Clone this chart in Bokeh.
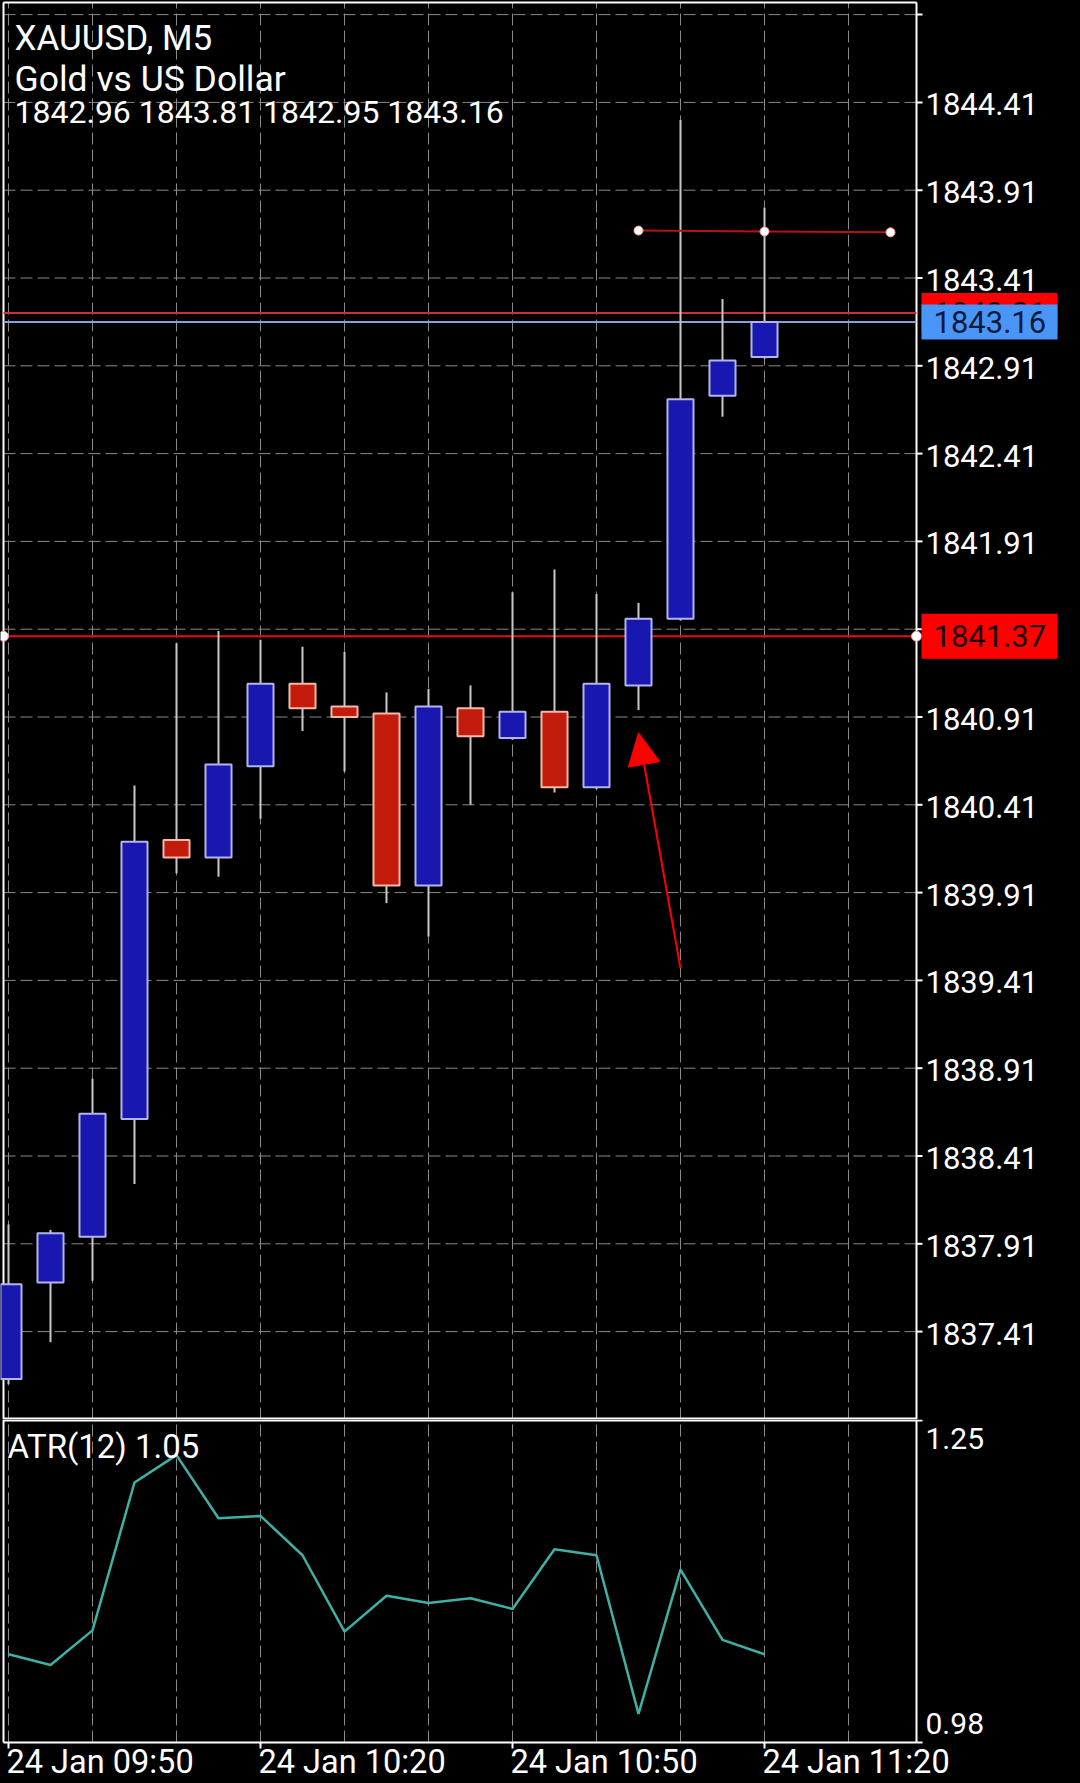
from bokeh.plotting import figure
from bokeh.layouts import column
from bokeh.models import (ColumnDataSource, Range1d, Arrow, NormalHead, GlobalInlineStyleSheet)
from bokeh.core.properties import value
from bokeh.embed import file_html
from bokeh.resources import INLINE

# ---------------- data ----------------
symbol_title = "XAUUSD, M5"
symbol_desc = "Gold vs US Dollar"
bar_times = ["09:50", "09:55", "10:00", "10:05", "10:10", "10:15", "10:20", "10:25",
             "10:30", "10:35", "10:40", "10:45", "10:50", "10:55", "11:00", "11:05",
             "11:10", "11:15", "11:20"]
opens = [1837.14, 1837.69, 1837.95, 1838.62, 1840.21, 1840.11, 1840.63, 1841.10, 1840.97, 1840.93,
         1839.95, 1840.96, 1840.79, 1840.94, 1840.51, 1841.09, 1841.47, 1842.74, 1842.96]
highs = [1838.02, 1837.99, 1838.85, 1840.52, 1841.33, 1841.40, 1841.35, 1841.31, 1841.28, 1841.05,
         1841.07, 1841.09, 1841.62, 1841.75, 1841.61, 1841.56, 1844.31, 1843.29, 1843.81]
lows = [1837.11, 1837.35, 1837.70, 1838.25, 1840.02, 1840.00, 1840.33, 1840.83, 1840.60, 1839.85,
        1839.66, 1840.41, 1840.78, 1840.48, 1840.50, 1840.95, 1841.46, 1842.62, 1842.95]
closes = [1837.68, 1837.97, 1838.65, 1840.20, 1840.11, 1840.64, 1841.10, 1840.96, 1840.91, 1839.95,
          1840.97, 1840.80, 1840.94, 1840.51, 1841.10, 1841.47, 1842.72, 1842.94, 1843.16]
atr_values = [1.054, 1.045, 1.074, 1.198, 1.221, 1.168, 1.170, 1.137, 1.073, 1.103,
              1.097, 1.101, 1.092, 1.142, 1.137, 1.004, 1.125, 1.066, 1.054]
price_ticks = [1837.41, 1837.91, 1838.41, 1838.91, 1839.41, 1839.91, 1840.41, 1840.91,
               1841.41, 1841.91, 1842.41, 1842.91, 1843.41, 1843.91, 1844.41]
price_grid_top = 1844.91
time_tick_index = [0, 6, 12, 18]
time_tick_labels = ["24 Jan 09:50", "24 Jan 10:20", "24 Jan 10:50", "24 Jan 11:20"]
atr_axis_max = 1.25
atr_axis_min = 0.98
level_price = 1841.37
ask_price = 1843.21
bid_price = 1843.16
trend_index = [15, 18, 21]
trend_price = [1843.68, 1843.675, 1843.67]
arrow_from = (16, 1839.48)
arrow_to = (15, 1840.82)

# ---------------- layout constants (pixels) ----------------
W = 1080                 # canvas width
XPPU = 42.0              # pixels per bar
BAR0_PX = 8              # x of first bar centre
PLOT_LEFT = 3            # chart left border
PLOT_RIGHT = 916         # chart right border
MAIN_H = 1419            # main panel height
TOP_BORDER = 2
PPU = 175.6              # pixels per price unit
REF_TICK_PX = 101.9      # y of the 1844.41 tick
ATR_PLOT_H = 323         # atr plot height (to its bottom border)
XLAB_H = 41              # time label band
FONT = "Roboto"
GRID_COLOR = "#8a8a8a"
GRID_DASH = "12 5"
WHITE = "white"

X0 = -BAR0_PX / XPPU
X_END = (W - BAR0_PX) / XPPU
XB = (PLOT_RIGHT - BAR0_PX) / XPPU
XL = (PLOT_LEFT - BAR0_PX) / XPPU
PRICE_HI = price_ticks[-1] + REF_TICK_PX / PPU
PRICE_LO = PRICE_HI - MAIN_H / PPU
ATR_PPU = (ATR_PLOT_H - 1) / (atr_axis_max - atr_axis_min)
ATR_TOP = atr_axis_max + 1 / ATR_PPU
ATR_LO = atr_axis_min - XLAB_H / ATR_PPU


def dx(px):
    return px / XPPU


def dpm(px):
    return px / PPU


def dpa(px):
    return px / ATR_PPU


def price_at(cy):
    return PRICE_HI - cy / PPU


xr = Range1d(X0, X_END)


def base_fig(height, yr):
    f = figure(width=W, height=height, x_range=xr, y_range=yr,
               x_axis_location=None, y_axis_location=None, output_backend="svg",
               toolbar_location=None, background_fill_color="black",
               border_fill_color="black", min_border=0, outline_line_color=None)
    f.xgrid.visible = False
    f.ygrid.visible = False
    return f


# ---------------- main price panel ----------------
p = base_fig(MAIN_H, Range1d(PRICE_LO, PRICE_HI))
PT = price_at(TOP_BORDER)

grid_x = list(range(0, 21, 2))
p.segment(x0=grid_x, x1=grid_x, y0=[PRICE_LO] * len(grid_x), y1=[PT] * len(grid_x),
          line_color=GRID_COLOR, line_dash=GRID_DASH, line_width=1)
grid_y = price_ticks + [price_grid_top]
p.segment(x0=[XL] * len(grid_y), x1=[XB] * len(grid_y), y0=grid_y, y1=grid_y,
          line_color=GRID_COLOR, line_dash=GRID_DASH, line_width=1)

# frame borders
p.segment(x0=[XL, XL, XB], x1=[XB, XL, XB], y0=[PT, PRICE_LO, PRICE_LO],
          y1=[PT, PT, PT], line_color=WHITE, line_width=2)
p.segment(x0=[XL], x1=[XB], y0=[PRICE_LO], y1=[PRICE_LO], line_color=WHITE, line_width=4)

# price axis ticks and labels
p.segment(x0=[XB] * len(grid_y), x1=[XB + dx(6)] * len(grid_y), y0=grid_y, y1=grid_y,
          line_color=WHITE, line_width=2)
p.text(x=[XB + dx(9)] * len(price_ticks), y=[t - dpm(2) for t in price_ticks],
       text=[f"{t:.2f}" for t in price_ticks], text_color=WHITE,
       text_font=value(FONT), text_font_size=value("31px"),
       text_align="left", text_baseline="middle")

# horizontal price lines
p.segment(x0=[XL], x1=[XB], y0=[level_price], y1=[level_price], line_color="#e41010", line_width=2)
p.segment(x0=[XL], x1=[XB], y0=[ask_price], y1=[ask_price], line_color="#cc3030", line_width=2)
p.segment(x0=[XL], x1=[XB], y0=[bid_price], y1=[bid_price], line_color="#86a2dc", line_width=2)
p.scatter(x=[XL, XB], y=[level_price, level_price], size=10,
          fill_color=WHITE, line_color="#ff9a9a", line_width=1)

# candles
idx = list(range(len(bar_times)))
bull = [c >= o for o, c in zip(opens, closes)]
src = ColumnDataSource(dict(
    x=idx, open=opens, high=highs, low=lows, close=closes,
    top=[max(o, c) for o, c in zip(opens, closes)],
    bottom=[min(o, c) for o, c in zip(opens, closes)],
    fill=["#1818b0" if b else "#c41c0c" for b in bull],
    edge=["#b4b4ec" if b else "#f2b8a8" for b in bull],
))
p.segment(x0="x", y0="low", x1="x", y1="high", source=src, line_color="#c8c8c8", line_width=2)
p.vbar(x="x", width=0.62, top="top", bottom="bottom", source=src,
       fill_color="fill", line_color="edge", line_width=2)

# trend line
p.line(trend_index, trend_price, line_color="#b41414", line_width=2)
p.scatter(trend_index, trend_price, size=9, fill_color=WHITE, line_color="#ff9a9a")

# arrow
p.add_layout(Arrow(end=NormalHead(size=32, fill_color="#ff0000", line_color="#ff0000"),
                   x_start=arrow_from[0], y_start=arrow_from[1],
                   x_end=arrow_to[0], y_end=arrow_to[1],
                   line_color="#ff0000", line_width=2))

# price boxes on the axis
box_l, box_r = XB + dx(5), XB + dx(141)
p.quad(left=[box_l], right=[box_r], bottom=[level_price - dpm(22.5)], top=[level_price + dpm(22.5)],
       fill_color="#ff0000", line_color=None)
p.text(x=[XB + dx(17)], y=[level_price], text=[f"{level_price:.2f}"], text_color="#1a0000",
       text_font=value(FONT), text_font_size=value("31px"), text_baseline="middle")
p.quad(left=[box_l], right=[box_r], bottom=[ask_price - dpm(20)], top=[ask_price + dpm(20)],
       fill_color="#ff0000", line_color=None)
p.text(x=[XB + dx(17)], y=[ask_price], text=[f"{ask_price:.2f}"], text_color="#1a0000",
       text_font=value(FONT), text_font_size=value("31px"), text_baseline="middle")
p.quad(left=[box_l], right=[box_r], bottom=[bid_price - dpm(17.5)], top=[bid_price + dpm(17.5)],
       fill_color="#4a96f6", line_color=None)
p.text(x=[XB + dx(17)], y=[bid_price], text=[f"{bid_price:.2f}"], text_color="#0a1a3c",
       text_font=value(FONT), text_font_size=value("31px"), text_baseline="middle")

# title lines (y = visual centre of each line)
title_lines = [symbol_title, symbol_desc,
               f"{opens[-1]:.2f} {highs[-1]:.2f} {lows[-1]:.2f} {closes[-1]:.2f}"]
title_sizes = ["35px", "35.5px", "32px"]
title_mid = [37.5, 78, 111.5]
for t, s, m in zip(title_lines, title_sizes, title_mid):
    p.text(x=[XL + dx(11)], y=[price_at(m)], text=[t], text_color=WHITE, text_font=value(FONT),
           text_font_size=value(s), text_baseline="middle")

# ---------------- ATR panel ----------------
p2 = base_fig(ATR_PLOT_H + XLAB_H, Range1d(ATR_LO, ATR_TOP))
p2.segment(x0=grid_x, x1=grid_x, y0=[atr_axis_min] * len(grid_x), y1=[ATR_TOP] * len(grid_x),
           line_color=GRID_COLOR, line_dash=GRID_DASH, line_width=1)
p2.line(idx, atr_values, line_color="#3fb0a6", line_width=2.5)

# borders
p2.segment(x0=[XL, XB, XL], x1=[XL, XB, XB], y0=[atr_axis_min, atr_axis_min, atr_axis_min],
           y1=[ATR_TOP, ATR_TOP, atr_axis_min], line_color=WHITE, line_width=2)
p2.segment(x0=[XL], x1=[XB], y0=[ATR_TOP], y1=[ATR_TOP], line_color=WHITE, line_width=4)
# right ticks
p2.segment(x0=[XB, XB], x1=[XB + dx(6)] * 2, y0=[atr_axis_max, atr_axis_min],
           y1=[atr_axis_max, atr_axis_min], line_color=WHITE, line_width=2)
p2.text(x=[XB + dx(9)], y=[ATR_TOP - dpa(19)], text=[f"{atr_axis_max:.2f}"], text_color=WHITE,
        text_font=value(FONT), text_font_size=value("30px"), text_baseline="middle")
p2.text(x=[XB + dx(9)], y=[atr_axis_min + dpa(19)], text=[f"{atr_axis_min:.2f}"], text_color=WHITE,
        text_font=value(FONT), text_font_size=value("30px"), text_baseline="middle")
p2.text(x=[XL + dx(4)], y=[ATR_TOP - dpa(27)], text=[f"ATR(12) {atr_values[-1]:.2f}"],
        text_color=WHITE, text_font=value(FONT), text_font_size=value("33px"),
        text_baseline="middle")

# time axis
p2.segment(x0=time_tick_index, x1=time_tick_index, y0=[atr_axis_min] * len(time_tick_index),
           y1=[atr_axis_min - dpa(6)] * len(time_tick_index), line_color=WHITE, line_width=2)
p2.text(x=[t - dx(2) for t in time_tick_index], y=[atr_axis_min - dpa(19)] * len(time_tick_index),
        text=time_tick_labels, text_color=WHITE, text_font=value(FONT),
        text_font_size=value("32.5px"), text_align="left", text_baseline="middle")

layout = column(p, p2, spacing=0,
                stylesheets=[GlobalInlineStyleSheet(css="body { background: #000000; }")])

open("out.html", "w").write(file_html(layout, INLINE))
